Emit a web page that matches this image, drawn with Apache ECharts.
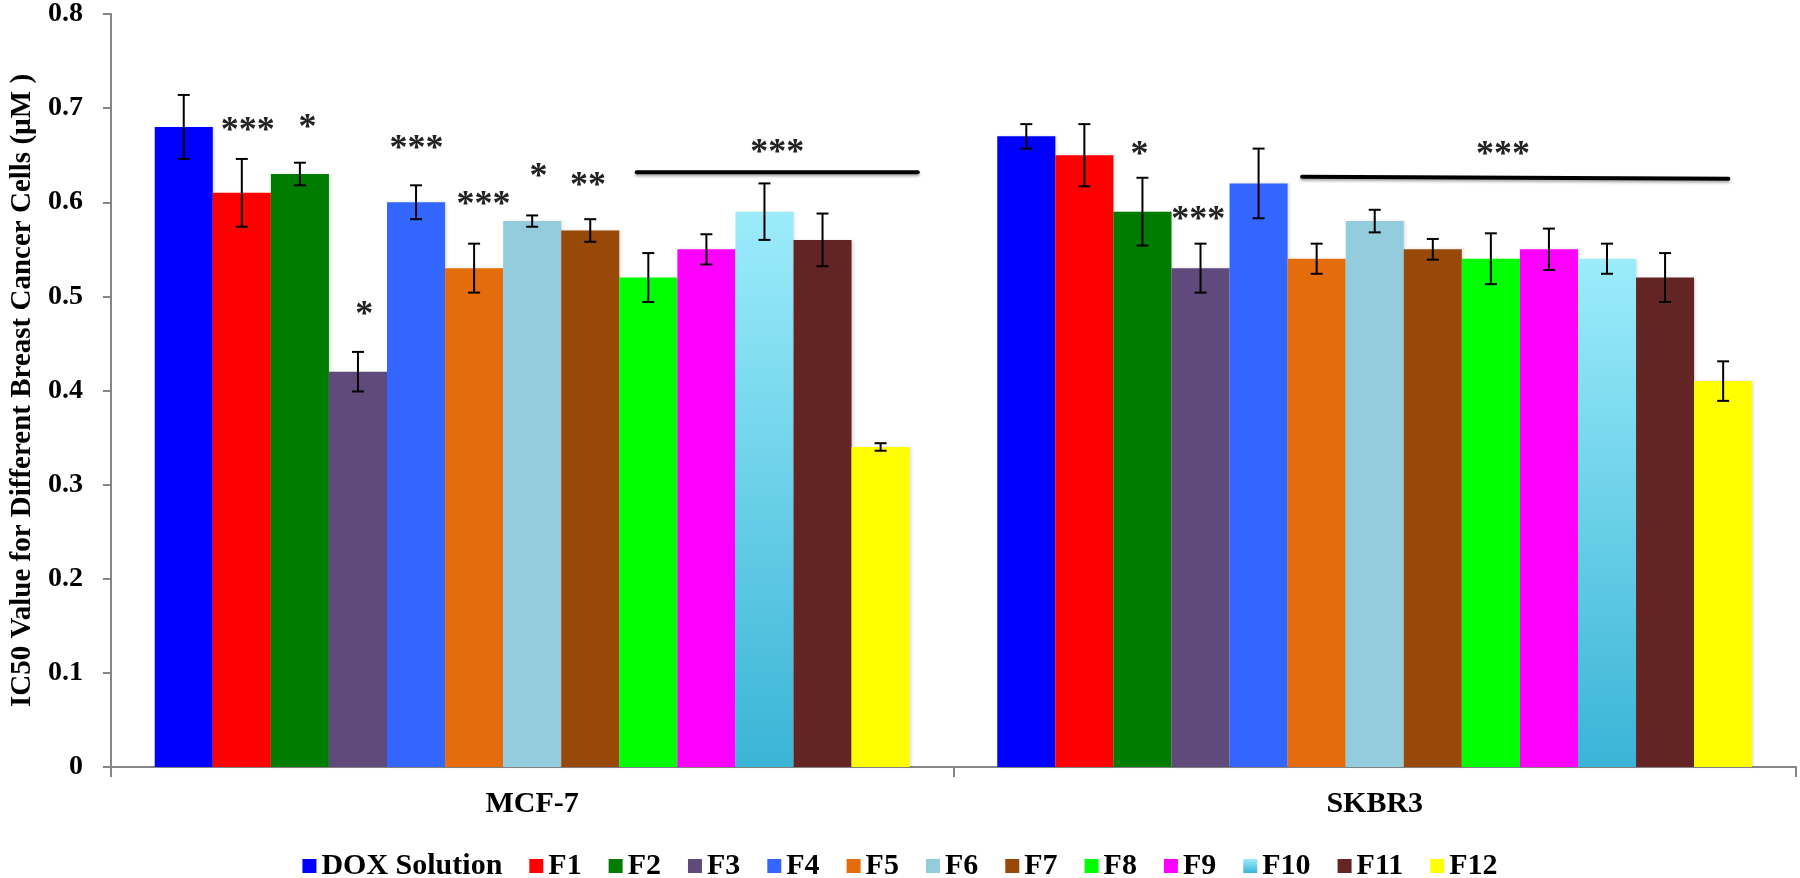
<!DOCTYPE html>
<html>
<head>
<meta charset="utf-8">
<script src="https://cdn.jsdelivr.net/npm/echarts@6/dist/echarts.min.js"></script>
<style>
html,body{margin:0;padding:0;background:#fff;}
#chart{width:1800px;height:878px;}
</style>
</head>
<body>
<div id="chart"></div>
<script>
// ---- data ----
var categories = ['MCF-7', 'SKBR3'];
var seriesNames = ['DOX Solution','F1','F2','F3','F4','F5','F6','F7','F8','F9','F10','F11','F12'];
var mcf7Values  = [0.68, 0.61, 0.63, 0.42, 0.60, 0.53, 0.58, 0.57, 0.52, 0.55, 0.59, 0.56, 0.34];
var mcf7Errors  = [0.034, 0.036, 0.012, 0.021, 0.018, 0.026, 0.006, 0.012, 0.026, 0.016, 0.030, 0.028, 0.004];
var skbr3Values = [0.67, 0.65, 0.59, 0.53, 0.62, 0.54, 0.58, 0.55, 0.54, 0.55, 0.54, 0.52, 0.41];
var skbr3Errors = [0.013, 0.033, 0.036, 0.026, 0.037, 0.016, 0.012, 0.011, 0.027, 0.022, 0.016, 0.026, 0.021];
var yTicks = [0, 0.1, 0.2, 0.3, 0.4, 0.5, 0.6, 0.7, 0.8];

// significance marks (category index, position in bar units within the group, value, text)
var sigText     = ['***', '*', '*', '***', '***', '*', '**', '***', '*', '***', '***'];
var sigCategory = [0, 0, 0, 0, 0, 0, 0, 0, 1, 1, 1];
var sigBarPos   = [1.6, 2.63, 3.61, 4.51, 5.66, 6.61, 7.46, 10.72, 2.45, 3.46, 8.71];
var sigValue    = [0.682, 0.686, 0.487, 0.663, 0.604, 0.633, 0.624, 0.659, 0.657, 0.588, 0.657];

// horizontal bracket lines
var lineCategory   = [0, 1];
var lineStartPos   = [8.3, 5.25];
var lineEndPos     = [13.14, 12.59];
var lineStartValue = [0.632, 0.627];
var lineEndValue   = [0.632, 0.625];

// ---- styles ----
var colors = ['#0000FF','#FF0000','#007D00','#604A7B','#3366FF','#E46C0A','#93CDDD','#984807','#00FF00','#FF00FF', null,'#632523','#FFFF00'];
var FONT = '"Times New Roman", "Liberation Serif", serif';
var CAT_GAP = 0.104;
var N = seriesNames.length;

var chart = echarts.init(document.getElementById('chart'), null, {renderer: 'canvas'});

function colorFor(i) {
  if (i === 10) {
    return new echarts.graphic.LinearGradient(0, 0, 0, 1, [
      {offset: 0, color: '#9CECFB'},
      {offset: 1, color: '#3AB4D6'}
    ]);
  }
  return colors[i];
}

function groupX(api, cat, pos) {
  var c = api.coord([cat, 0])[0];
  var w = api.size([1, 0])[0];
  var gw = w * (1 - CAT_GAP);
  return c - gw / 2 + pos * gw / N;
}

var series = seriesNames.map(function (name, i) {
  return {
    name: name,
    type: 'bar',
    barGap: 0,
    barCategoryGap: (CAT_GAP * 100) + '%',
    itemStyle: {
      color: colorFor(i),
      shadowColor: 'rgba(0,0,0,0.12)',
      shadowBlur: 3,
      shadowOffsetX: 2
    },
    emphasis: {disabled: true},
    data: [mcf7Values[i], skbr3Values[i]]
  };
});

// error bars
var errData = [];
for (var i = 0; i < N; i++) {
  errData.push([0, mcf7Values[i], i, mcf7Errors[i]]);
  errData.push([1, skbr3Values[i], i, skbr3Errors[i]]);
}
series.push({
  name: 'errors',
  type: 'custom',
  z: 10,
  silent: true,
  encode: {x: 0, y: 1},
  data: errData,
  renderItem: function (params, api) {
    var cat = api.value(0), v = api.value(1), idx = api.value(2), e = api.value(3);
    var x = groupX(api, cat, idx + 0.5);
    var yTop = api.coord([cat, v + e])[1];
    var yBot = api.coord([cat, v - e])[1];
    var cap = 6;
    var st = {stroke: '#000', lineWidth: 2};
    return {
      type: 'group',
      children: [
        {type: 'line', shape: {x1: x, y1: yTop, x2: x, y2: yBot}, style: st},
        {type: 'line', shape: {x1: x - cap, y1: yTop, x2: x + cap, y2: yTop}, style: st},
        {type: 'line', shape: {x1: x - cap, y1: yBot, x2: x + cap, y2: yBot}, style: st}
      ]
    };
  }
});

// significance stars
var sigData = sigText.map(function (t, k) {
  return [sigCategory[k], sigValue[k], sigBarPos[k], t];
});
series.push({
  name: 'significance',
  type: 'custom',
  z: 11,
  silent: true,
  encode: {x: 0, y: 1},
  data: sigData,
  renderItem: function (params, api) {
    var cat = api.value(0), v = api.value(1), pos = api.value(2);
    var t = sigData[params.dataIndex][3];
    var x = groupX(api, cat, pos);
    var y = api.coord([cat, v])[1];
    return {
      type: 'text',
      x: x, y: y + 7,
      style: {
        text: t,
        fill: '#222',
        font: 'bold 36px ' + FONT,
        align: 'center',
        verticalAlign: 'middle'
      }
    };
  }
});

// bracket lines
var lineData = lineCategory.map(function (c, k) {
  return [c, lineStartValue[k], lineStartPos[k], lineEndPos[k], lineEndValue[k]];
});
series.push({
  name: 'brackets',
  type: 'custom',
  z: 11,
  silent: true,
  encode: {x: 0, y: 1},
  data: lineData,
  renderItem: function (params, api) {
    var cat = api.value(0), v1 = api.value(1), p1 = api.value(2), p2 = api.value(3), v2 = api.value(4);
    var x1 = groupX(api, cat, p1), x2 = groupX(api, cat, p2);
    var y1 = api.coord([cat, v1])[1], y2 = api.coord([cat, v2])[1];
    return {
      type: 'line',
      shape: {x1: x1, y1: y1, x2: x2, y2: y2},
      style: {
        stroke: '#000', lineWidth: 4, lineCap: 'round',
        shadowColor: 'rgba(0,0,0,0.35)', shadowBlur: 3, shadowOffsetY: 2
      }
    };
  }
});

chart.setOption({
  animation: false,
  backgroundColor: '#ffffff',
  grid: {left: 105, right: 4, top: 14, bottom: 111, containLabel: false},
  legend: {
    data: seriesNames,
    top: 846,
    left: 'center',
    icon: 'rect',
    itemWidth: 14,
    itemHeight: 14,
    itemGap: 27,
    selectedMode: false,
    textStyle: {fontFamily: FONT, fontWeight: 'bold', fontSize: 30, color: '#000'}
  },
  xAxis: {
    type: 'category',
    data: categories,
    axisLine: {lineStyle: {color: '#868686', width: 2}},
    axisTick: {show: true, length: 10, lineStyle: {color: '#868686', width: 2}},
    axisLabel: {fontFamily: FONT, fontWeight: 'bold', fontSize: 30, color: '#000', margin: 22}
  },
  yAxis: {
    type: 'value',
    min: yTicks[0],
    max: yTicks[yTicks.length - 1],
    interval: 0.1,
    name: 'IC50 Value for Different Breast Cancer Cells (µM )',
    nameLocation: 'middle',
    nameGap: 72,
    nameTextStyle: {fontFamily: FONT, fontWeight: 'bold', fontSize: 29, color: '#000'},
    axisLine: {show: true, lineStyle: {color: '#868686', width: 2}},
    axisTick: {show: true, length: 8, lineStyle: {color: '#868686', width: 2}},
    splitLine: {show: false},
    axisLabel: {
      fontFamily: FONT, fontWeight: 'bold', fontSize: 28, color: '#000', margin: 28,
      formatter: function (v) { return String(Math.round(v * 10) / 10); }
    }
  },
  series: series
});
</script>
</body>
</html>
